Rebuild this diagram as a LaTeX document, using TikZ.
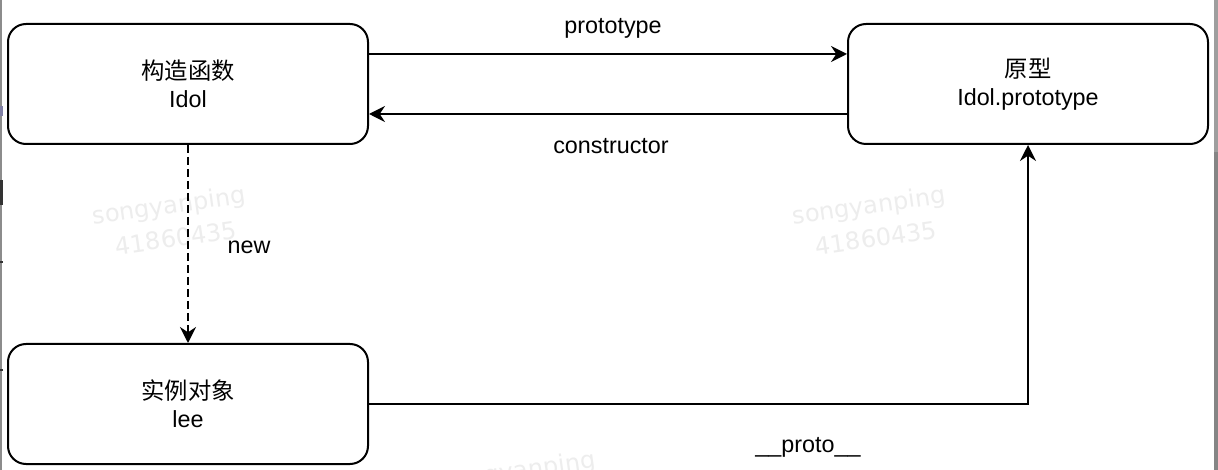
\documentclass[tikz,border=0pt]{standalone}
\usepackage{fontspec}
\setmainfont{Liberation Sans}
\newfontfamily\cjk{Noto Sans CJK SC}
\newfontfamily\wmfont{DejaVu Sans}
\usetikzlibrary{arrows.meta,calc}

\begin{document}
\begin{tikzpicture}[x=0.75pt,y=-0.75pt,
  box/.style={draw, line width=1.5pt, rounded corners=13.5pt,
    minimum width=270pt, minimum height=90pt, inner sep=0pt,
    align=center, font=\fontsize{17.5}{21}\selectfont},
  link/.style={line width=1.5pt, -{Stealth[length=12pt,width=12pt,inset=4pt]}},
  lbl/.style={inner sep=0pt, font=\fontsize{17.5}{21}\selectfont},
  wm/.style={text=black!7, rotate=8, inner sep=0pt,
    font=\wmfont\fontsize{18}{22}\selectfont}
]
% page
\fill[white] (0,0) rectangle (1218,470);
\useasboundingbox (0,0) rectangle (1218,470);

% window edges
\fill[black!45] (0,0) rectangle (2,470);
\fill[black!80] (0,180) rectangle (2.5,205);
\fill[black!80] (0,261) rectangle (3,263);
\fill[black!80] (0,369) rectangle (3,371);
\fill[blue!30!black!50] (0,106) rectangle (2.5,116);
\fill[black!38] (1214,0) rectangle (1218,152);
\fill[black!48] (1214,152) rectangle (1218,470);

% watermark
\begin{scope}
  \clip (2,0) rectangle (1214,470);
  \node[wm] (wm1a) at (169,207) {songyanping};
  \node[wm] (wm1b) at (176,238) {41860435};
  \node[wm] (wm2a) at (869,207) {songyanping};
  \node[wm] (wm2b) at (876,238) {41860435};
  \node[wm] (wm3a) at (519,472) {songyanping};
\end{scope}

% boxes
\node[box] (idol)  at (188,84)  {{\cjk 构造函数}\\Idol};
\node[box] (proto) at (1028,84) {{\cjk 原型}\\Idol.prototype};
\node[box] (inst)  at (188,404) {{\cjk 实例对象}\\lee};

% connectors
\draw[link] ($(idol.east)+(0,-30)$) -- ($(proto.west)+(0,-30)$);
\draw[link] ($(proto.west)+(0,30)$) -- ($(idol.east)+(0,30)$);
\draw[link, dash pattern=on 6pt off 3pt] (idol.south) -- (inst.north);
\draw[link] (inst.east) -| (proto.south);

% connector labels
\node[lbl] (lproto) at (613,28)  {prototype};
\node[lbl] (lcons)  at (611,146) {constructor};
\node[lbl] (lnew)   at (249,247) {new};
\node[lbl] (lpp)    at (808,447) {\_\_proto\_\_};
\end{tikzpicture}
\end{document}
